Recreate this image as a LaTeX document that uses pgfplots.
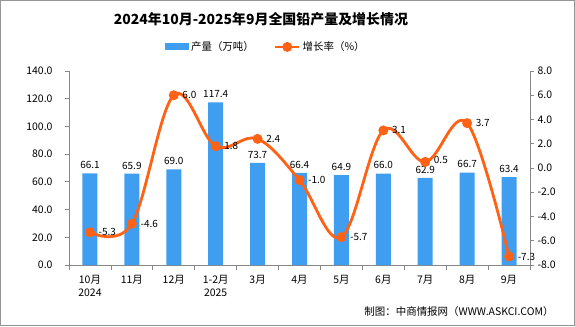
\documentclass[border=0pt]{standalone}
\usepackage{fontspec}
\setmainfont{Noto Sans CJK SC}
\usepackage{pgfplots}
\pgfplotsset{compat=1.18}
\definecolor{barblue}{RGB}{64,158,240}
\definecolor{lineorange}{RGB}{255,98,20}
\definecolor{axisgray}{RGB}{136,136,136}
\definecolor{framegray}{RGB}{150,150,150}
\begin{document}
\begin{tikzpicture}[x=1bp,y=1bp]
\draw[framegray, line width=1bp] (0.5,0.5) rectangle (574.5,325.5);
\node[font=\bfseries\fontsize{14}{16}\selectfont, anchor=center] at (261,307) {2024年10月-2025年9月全国铅产量及增长情况};
\node[font=\fontsize{10.5}{12}\selectfont, anchor=east] at (557,14) {制图：中商情报网（WWW.ASKCI.COM）};
\begin{axis}[
  at={(69bp,61bp)}, anchor=south west,
  width=461bp, height=194bp, scale only axis,
  xmin=-0.5, xmax=10.5, ymin=0, ymax=140,
  ytick={0,20,...,140},
  axis x line*=bottom, axis y line*=left,
  axis line style={axisgray, line width=0.8bp},
  tick style={axisgray, line width=0.8bp},
  tick align=outside,
  major tick length=4bp, minor tick length=5bp,
  xtick={0,...,10},
  xticklabels={{10月\\2024},11月,12月,{1-2月\\2025},3月,4月,5月,6月,7月,8月,9月},
  major x tick style={draw=none},
  minor xtick={-0.5,0.5,...,10.5},
  xticklabel style={align=center, font=\fontsize{10.5}{13}\selectfont, yshift=-3bp},
  yticklabel style={font=\fontsize{10.5}{12}\selectfont, xshift=-9bp, /pgf/number format/fixed, /pgf/number format/fixed zerofill, /pgf/number format/precision=1},
  /pgf/number format/assume math mode=true,
  legend columns=2,
  legend style={draw=none, fill=none, at={(0.427,1.124)}, anchor=center, font=\fontsize{10.5}{12}\selectfont, /tikz/every even column/.append style={column sep=18bp}},
]
\addplot[ybar, bar width=15bp, fill=barblue, draw=none,
  nodes near coords, nodes near coords style={font=\fontsize{10}{11}\selectfont, black, yshift=1bp, /pgf/number format/fixed, /pgf/number format/fixed zerofill, /pgf/number format/precision=1, /pgf/number format/assume math mode=true},
  legend image code/.code={\fill[barblue] (0bp,-3.5bp) rectangle (24bp,3.5bp);}]
  coordinates {(0,66.1) (1,65.9) (2,69.0) (3,117.4) (4,73.7) (5,66.4) (6,64.9) (7,66.0) (8,62.9) (9,66.7) (10,63.4)};
\addlegendentry{产量（万吨）}
\addlegendimage{lineorange, line width=2.8bp, mark=*, mark size=3.5bp, legend image code/.code={\draw[lineorange, line width=2.8bp] (0bp,0bp) -- (24bp,0bp); \fill[lineorange] (12bp,0bp) circle (3.5bp);}}
\addlegendentry{增长率（\%）}
\end{axis}
\begin{axis}[
  at={(69bp,61bp)}, anchor=south west,
  width=461bp, height=194bp, scale only axis,
  xmin=-0.5, xmax=10.5, ymin=-8, ymax=8,
  ytick={-8,-6,...,8},
  axis x line=none, axis y line*=right,
  axis line style={axisgray, line width=0.8bp},
  tick style={axisgray, line width=0.8bp},
  tick align=outside, major tick length=4bp,
  yticklabel style={font=\fontsize{10.5}{12}\selectfont, /pgf/number format/fixed, /pgf/number format/fixed zerofill, /pgf/number format/precision=1},
  /pgf/number format/assume math mode=true,
]
\addplot[lineorange, line width=2.8bp, smooth, tension=0.6, mark=*, mark size=3.5bp, mark options={fill=lineorange},
  nodes near coords,
  nodes near coords style={font=\fontsize{10}{11}\selectfont, black, anchor=west, xshift=4bp, /pgf/number format/fixed, /pgf/number format/fixed zerofill, /pgf/number format/precision=1, /pgf/number format/assume math mode=true},
  coordinate style/.condition={\coordindex==8}{anchor=south west, yshift=2bp}]
  coordinates {(0,-5.3) (1,-4.6) (2,6.0) (3,1.8) (4,2.4) (5,-1.0) (6,-5.7) (7,3.1) (8,0.5) (9,3.7) (10,-7.3)};
\end{axis}
\end{tikzpicture}
\end{document}
